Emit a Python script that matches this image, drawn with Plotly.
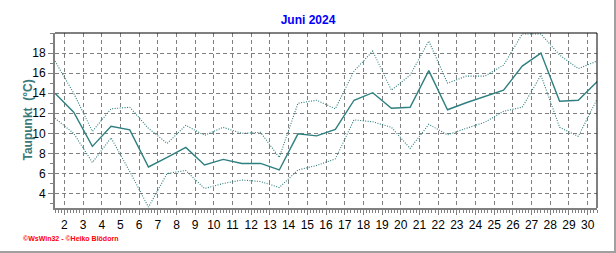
import plotly.graph_objects as go

# ---- data ----
DAYS = list(range(1, 31))
TAUPUNKT_MITTEL = [14.0, 12.1, 8.7, 10.7, 10.35, 6.65, 7.6, 8.6, 6.85, 7.4,
                   7.0, 7.0, 6.35, 9.95, 9.75, 10.4, 13.3, 14.05, 12.5, 12.6,
                   16.25, 12.35, 13.05, 13.65, 14.3, 16.7, 18.0, 13.2, 13.3, 15.15]
TAUPUNKT_MAX = [17.2, 14.0, 10.2, 12.45, 12.6, 10.5, 9.0, 10.8, 9.8, 10.6,
                10.0, 10.1, 7.6, 13.0, 13.3, 12.45, 16.2, 18.2, 14.3, 15.8,
                19.2, 15.0, 15.7, 15.7, 16.8, 19.9, 19.9, 17.8, 16.45, 17.2]
TAUPUNKT_MIN = [11.5, 10.0, 7.1, 9.55, 6.2, 2.65, 6.0, 6.3, 4.5, 5.0,
                5.35, 5.2, 4.6, 6.35, 6.8, 7.45, 11.35, 11.15, 10.6, 8.5,
                10.9, 9.85, 10.5, 11.1, 12.2, 12.6, 15.8, 10.6, 9.7, 13.4]
X_TICKS = list(range(2, 31))
Y_TICKS = [4, 6, 8, 10, 12, 14, 16, 18]
TITLE = "Juni 2024"
Y_TITLE = "Taupunkt  (°C)"
FOOTER = "©WsWin32 - ©Heiko Blödorn"

# each daily value sits at the middle of its day
X_POS = [d + 0.5 for d in DAYS]

TEAL = "#2e7f7f"
TEAL_DOT = "#2a7a7a"
GRID = "#808080"
FONT = "Liberation Sans, Arial, sans-serif"

fig = go.Figure()
fig.add_trace(go.Scatter(x=X_POS, y=TAUPUNKT_MAX, mode="lines",
                         line=dict(color=TEAL_DOT, width=1.1, dash="1px,1.5px"),
                         hoverinfo="skip"))
fig.add_trace(go.Scatter(x=X_POS, y=TAUPUNKT_MIN, mode="lines",
                         line=dict(color=TEAL_DOT, width=1.1, dash="1px,1.5px"),
                         hoverinfo="skip"))
fig.add_trace(go.Scatter(x=X_POS, y=TAUPUNKT_MITTEL, mode="lines",
                         line=dict(color=TEAL, width=1.4),
                         hoverinfo="skip"))

fig.update_layout(
    width=616, height=253,
    margin=dict(l=55, r=19, t=33, b=45),
    paper_bgcolor="white", plot_bgcolor="white",
    showlegend=False,
    font=dict(family=FONT, color="black", size=11),
    title=dict(text="<b>" + TITLE + "</b>", x=0.5, xref="container",
               y=1 - 19.5 / 253, yref="container", yanchor="middle",
               xanchor="center", font=dict(color="#0000ff", size=12, family=FONT)),
    xaxis=dict(range=[1.5, 30.5], tickmode="array", tickvals=X_TICKS,
               ticks="outside", ticklen=5, tickcolor=GRID, tickwidth=1,
               showgrid=True, gridcolor=GRID, gridwidth=1, griddash="4px,3px",
               showline=True, linecolor=GRID, linewidth=2, zeroline=False,
               tickfont=dict(size=12, color="black", family=FONT),
               minor=dict(dtick=1 / 6, tick0=0, ticks="outside", ticklen=3,
                          tickcolor=GRID, tickwidth=1, showgrid=False)),
    yaxis=dict(range=[2.56, 20.0], tickmode="array", tickvals=Y_TICKS,
               ticks="outside", ticklen=5, tickcolor=GRID, tickwidth=1,
               showgrid=True, gridcolor=GRID, gridwidth=1, griddash="4px,3px",
               showline=True, linecolor=GRID, linewidth=2, zeroline=False,
               tickfont=dict(size=12, color="black", family=FONT),
               minor=dict(dtick=1, tick0=0, ticks="outside", ticklen=3,
                          tickcolor=GRID, tickwidth=1, showgrid=False)),
)

# top and right frame lines (black), outer picture border (grey)
fig.add_shape(type="line", xref="paper", yref="paper", x0=0, x1=1, y0=1, y1=1,
              line=dict(color="black", width=1))
fig.add_shape(type="line", xref="paper", yref="paper", x0=1, x1=1, y0=0, y1=1,
              line=dict(color="black", width=1))
fig.add_shape(type="line", xref="paper", yref="paper",
              x0=(615 - 55) / 542, x1=(615 - 55) / 542,
              y0=(208 - 253) / 175, y1=1 + 33 / 175,
              line=dict(color="#a0a0a0", width=2))
fig.add_shape(type="line", xref="paper", yref="paper",
              x0=-55 / 542, x1=(616 - 55) / 542,
              y0=(208 - 252) / 175, y1=(208 - 252) / 175,
              line=dict(color="#a0a0a0", width=2))

fig.add_annotation(text="<b>" + Y_TITLE.replace("  ", "\u00a0 ") + "</b>", textangle=-90,
                   xref="paper", yref="paper", x=(27 - 55) / 542, y=0.5,
                   xanchor="center", yanchor="middle", showarrow=False,
                   font=dict(color="#3a7a7a", size=12, family=FONT))
fig.add_annotation(text="<b>" + FOOTER + "</b>", xref="paper", yref="paper",
                   x=(21 - 55) / 542, y=(208 - 238.5) / 175,
                   xanchor="left", yanchor="middle", showarrow=False,
                   font=dict(color="#ff0000", size=7, family=FONT))

fig.write_html("out.html")
